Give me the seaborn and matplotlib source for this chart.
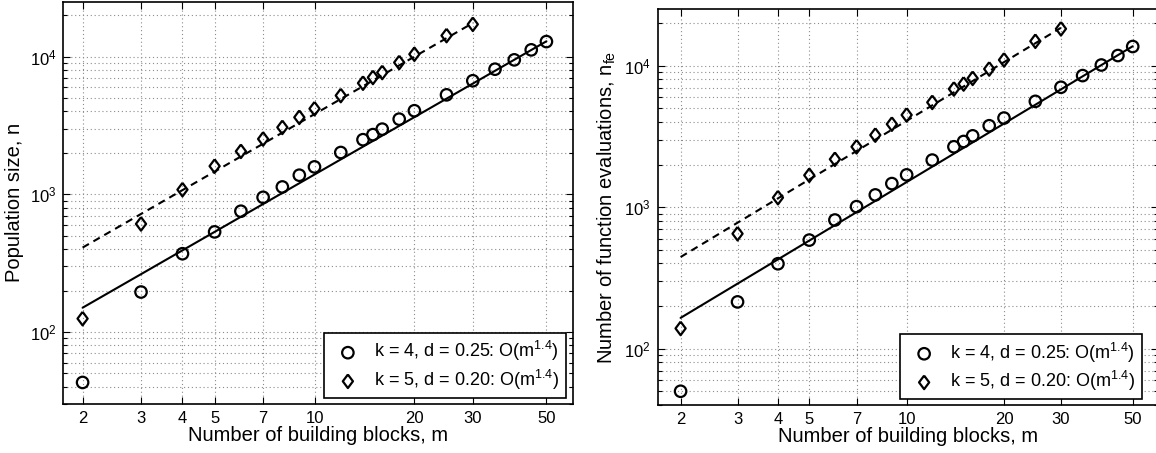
import numpy as np
import pandas as pd
import seaborn as sns
import matplotlib.pyplot as plt
from matplotlib.ticker import LogLocator, NullFormatter, NullLocator

# number of building blocks m
m_k4 = [2, 3, 4, 5, 6, 7, 8, 9, 10, 12, 14, 15, 16, 18, 20, 25, 30, 35, 40, 45, 50]
m_k5 = [2, 3, 4, 5, 6, 7, 8, 9, 10, 12, 14, 15, 16, 18, 20, 25, 30]

# left panel: population size n
pop_k4 = [43, 195, 370, 533, 753, 950, 1130, 1375, 1580, 2010, 2490, 2710,
          2970, 3510, 4040, 5270, 6670, 8090, 9460, 11180, 12840]
pop_k5 = [125, 609, 1080, 1600, 2050, 2520, 3060, 3620, 4180, 5210, 6410,
          7050, 7660, 9050, 10400, 14200, 17140]

# right panel: number of function evaluations n_fe
nfe_k4 = [50, 214, 398, 585, 811, 1008, 1220, 1467, 1690, 2150, 2670, 2910,
          3190, 3760, 4260, 5590, 7030, 8500, 10100, 11780, 13640]
nfe_k5 = [139, 649, 1167, 1680, 2180, 2670, 3230, 3860, 4480, 5500, 6840,
          7420, 8130, 9470, 10970, 14870, 18200]

# O(m^1.4) fit lines (end points)
fit_m_k4 = [2, 50]
fit_m_k5 = [2, 30]
pop_fit_k4 = [150, 12900]
pop_fit_k5 = [410, 17500]
nfe_fit_k4 = [165, 13700]
nfe_fit_k5 = [444, 18500]

xtick_vals = [2, 3, 4, 5, 7, 10, 20, 30, 50]
labels = ["k = 4, d = 0.25: O(m$^{1.4}$)", "k = 5, d = 0.20: O(m$^{1.4}$)"]

sns.set_style("ticks")
plt.rcParams['font.family'] = ['Liberation Sans', 'DejaVu Sans']
plt.rcParams['mathtext.fontset'] = 'custom'
plt.rcParams['mathtext.rm'] = 'Liberation Sans'
plt.rcParams['mathtext.it'] = 'Liberation Sans:italic'
plt.rcParams['mathtext.bf'] = 'Liberation Sans:bold'
plt.rcParams['axes.linewidth'] = 1.2
plt.rcParams['text.color'] = 'k'
plt.rcParams['axes.labelcolor'] = 'k'
plt.rcParams['xtick.color'] = 'k'
plt.rcParams['ytick.color'] = 'k'

diamond = [(0, 1), (0.75, 0), (0, -1), (-0.75, 0), (0, 1)]

fig = plt.figure(figsize=(11.56, 4.53), dpi=100)
ax1 = fig.add_axes([0.0548, 0.1082, 0.4406, 0.888])
ax2 = fig.add_axes([0.569, 0.106, 0.433, 0.8735])

panels = [
    (ax1, pop_k4, pop_k5, pop_fit_k4, pop_fit_k5, "Population size, n", 30,
     1.75, 0.986),
    (ax2, nfe_k4, nfe_k5, nfe_fit_k4, nfe_fit_k5,
     "Number of function evaluations, n$_{\\mathrm{fe}}$", 40, 1.7, 0.967),
]

for ax, y4, y5, f4, f5, ylab, ylo, xlo, leg_x in panels:
    ax.set_xscale('log')
    ax.set_yscale('log')

    sns.lineplot(x=fit_m_k4, y=f4, ax=ax, color='k', lw=1.5)
    sns.lineplot(x=fit_m_k5, y=f5, ax=ax, color='k', lw=1.5,
                 linestyle=(0, (3.5, 2.5)))

    sns.scatterplot(x=m_k4, y=y4, ax=ax, marker='o', s=68, facecolor='none',
                    edgecolor='k', linewidth=1.6, label=labels[0], zorder=3)
    sns.scatterplot(x=m_k5, y=y5, ax=ax, marker=diamond, s=95, facecolor='none',
                    edgecolor='k', linewidth=1.6, label=labels[1], zorder=3)

    ax.set_xlim(xlo, 60)
    ax.set_ylim(ylo, 2.5e4)

    ax.set_xticks(xtick_vals)
    ax.set_xticklabels([str(v) for v in xtick_vals])
    ax.xaxis.set_minor_locator(NullLocator())
    ax.yaxis.set_major_locator(LogLocator(base=10))
    ax.yaxis.set_minor_locator(LogLocator(base=10, subs=np.arange(2, 10)))
    ax.yaxis.set_minor_formatter(NullFormatter())

    ax.tick_params(which='both', direction='in', top=True, right=True,
                   labelsize=12, width=0.8, color='k', pad=5)
    ax.tick_params(which='major', length=5)
    ax.tick_params(which='minor', length=3)

    ax.grid(True, axis='x', which='major', color='0.55', lw=0.8,
            linestyle=(0, (1, 2.5)))
    ax.grid(True, axis='y', which='both', color='0.55', lw=0.8,
            linestyle=(0, (1, 2.5)))
    ax.set_axisbelow(True)

    ax.set_xlabel("Number of building blocks, m", fontsize=14.5, labelpad=0)
    ax.set_ylabel(ylab, fontsize=14.5, labelpad=4)

    leg = ax.legend(loc='lower right', bbox_to_anchor=(leg_x, 0.014),
                    borderaxespad=0, fontsize=13, fancybox=False,
                    framealpha=1, edgecolor='k', handletextpad=0.45,
                    handlelength=2.0, borderpad=0.35, labelspacing=0.25)
    leg.get_frame().set_linewidth(1.2)

    for sp in ax.spines.values():
        sp.set_color('k')

fig.savefig("out.png", dpi=100)
